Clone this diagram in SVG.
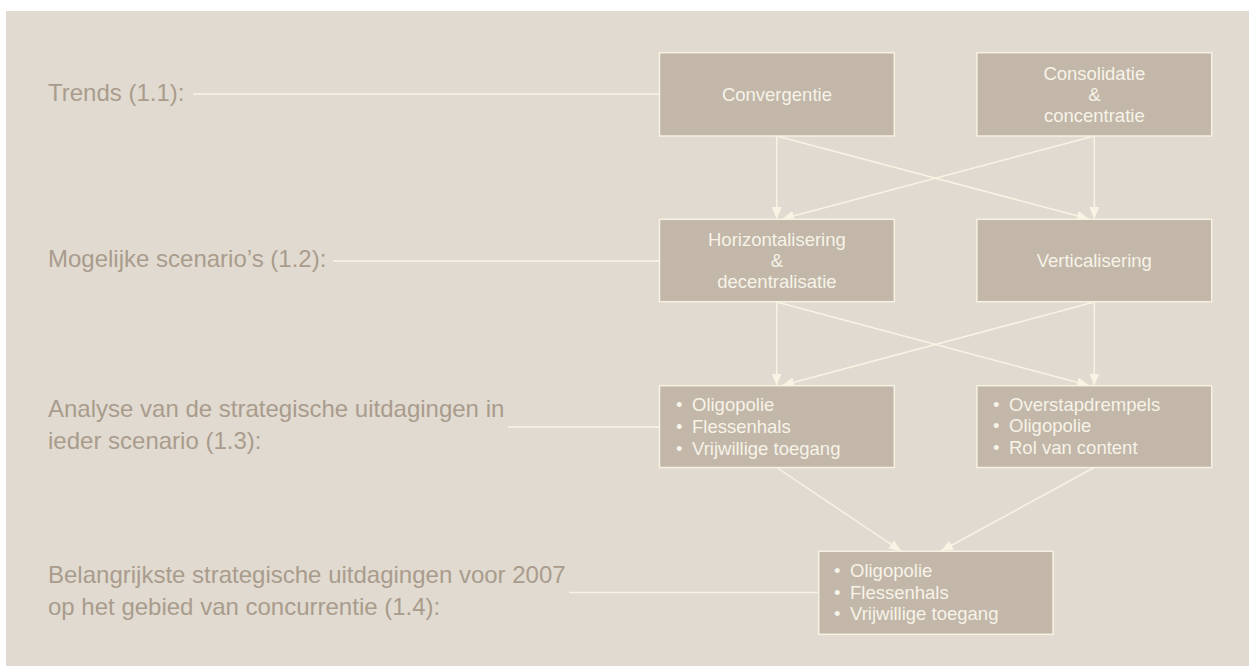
<svg xmlns="http://www.w3.org/2000/svg" width="1249" height="666" viewBox="0 0 1249 666">
<style>
.lbl{font-family:"Liberation Sans",Arial,sans-serif;font-size:24px;fill:#A99C8D}
.box{fill:#C2B7A8;stroke:#F6F1E2;stroke-width:1.5}
.bt{font-family:"Liberation Sans",Arial,sans-serif;font-size:18.5px;fill:#F7F3E8}
.c{text-anchor:middle}
.ln{stroke:#F8F4E4;stroke-width:1.5;fill:none}
.ar{stroke:#F8F4E4;stroke-width:1.5;fill:none;marker-end:url(#ah)}
</style>
<defs>
<marker id="ah" markerUnits="userSpaceOnUse" markerWidth="14" markerHeight="10" refX="12" refY="5" orient="auto">
<path d="M0,0 L12,5 L0,10 Z" fill="#F8F4E4"/>
</marker>
</defs>
<rect x="6" y="11" width="1243" height="655" fill="#E1DAD0"/>
<g id="labels">
<text class="lbl" x="48" y="101">Trends (1.1):</text>
<text class="lbl" x="48" y="267">Mogelijke scenario’s (1.2):</text>
<text class="lbl" x="48" y="417">Analyse van de strategische uitdagingen in</text>
<text class="lbl" x="48" y="449">ieder scenario (1.3):</text>
<text class="lbl" x="48" y="583">Belangrijkste strategische uitdagingen voor 2007</text>
<text class="lbl" x="48" y="615">op het gebied van concurrentie (1.4):</text>
</g>
<g id="connectors">
<line class="ln" x1="193" y1="94" x2="660" y2="94"/>
<line class="ln" x1="333" y1="261" x2="660" y2="261"/>
<line class="ln" x1="508" y1="427" x2="660" y2="427"/>
<line class="ln" x1="569" y1="592.5" x2="819" y2="592.5"/>
<line class="ar" x1="776.7" y1="136" x2="776.7" y2="219"/>
<line class="ar" x1="776.7" y1="136" x2="1089" y2="219"/>
<line class="ar" x1="1094.3" y1="136" x2="1094.3" y2="219"/>
<line class="ar" x1="1094.3" y1="136" x2="782" y2="219"/>
<line class="ar" x1="776.7" y1="302" x2="776.7" y2="385.5"/>
<line class="ar" x1="776.7" y1="302" x2="1089" y2="385.5"/>
<line class="ar" x1="1094.3" y1="302" x2="1094.3" y2="385.5"/>
<line class="ar" x1="1094.3" y1="302" x2="782" y2="385.5"/>
<line class="ar" x1="776.7" y1="467.5" x2="901" y2="551"/>
<line class="ar" x1="1094.3" y1="467.5" x2="941" y2="551"/>
</g>
<g id="convergentie">
<rect class="box" x="659.5" y="52.7" width="234.8" height="83.3"/>
<text class="bt c" x="776.9" y="100.8">Convergentie</text>
</g>
<g id="consolidatie">
<rect class="box" x="976.9" y="52.7" width="234.8" height="83.3"/>
<text class="bt c" x="1094.3" y="79.8">Consolidatie</text>
<text class="bt c" x="1094.3" y="100.8">&amp;</text>
<text class="bt c" x="1094.3" y="121.8">concentratie</text>
</g>
<g id="horizontalisering">
<rect class="box" x="659.5" y="219.3" width="234.8" height="82.4"/>
<text class="bt c" x="776.9" y="246">Horizontalisering</text>
<text class="bt c" x="776.9" y="267">&amp;</text>
<text class="bt c" x="776.9" y="288">decentralisatie</text>
</g>
<g id="verticalisering">
<rect class="box" x="976.9" y="219.3" width="234.8" height="82.4"/>
<text class="bt c" x="1094.3" y="267">Verticalisering</text>
</g>
<g id="analyse-links">
<rect class="box" x="659.5" y="385.7" width="234.8" height="81.8"/>
<text class="bt" x="676" y="411">•</text><text class="bt" x="692" y="411">Oligopolie</text>
<text class="bt" x="676" y="433">•</text><text class="bt" x="692" y="433">Flessenhals</text>
<text class="bt" x="676" y="455">•</text><text class="bt" x="692" y="455">Vrijwillige toegang</text>
</g>
<g id="analyse-rechts">
<rect class="box" x="976.9" y="385.7" width="234.8" height="81.8"/>
<text class="bt" x="993" y="410.5">•</text><text class="bt" x="1009" y="410.5">Overstapdrempels</text>
<text class="bt" x="993" y="432">•</text><text class="bt" x="1009" y="432">Oligopolie</text>
<text class="bt" x="993" y="453.5">•</text><text class="bt" x="1009" y="453.5">Rol van content</text>
</g>
<g id="uitdagingen-2007">
<rect class="box" x="818.7" y="551.3" width="234.3" height="83"/>
<text class="bt" x="834" y="577">•</text><text class="bt" x="850" y="577">Oligopolie</text>
<text class="bt" x="834" y="598.5">•</text><text class="bt" x="850" y="598.5">Flessenhals</text>
<text class="bt" x="834" y="620">•</text><text class="bt" x="850" y="620">Vrijwillige toegang</text>
</g>
</svg>
